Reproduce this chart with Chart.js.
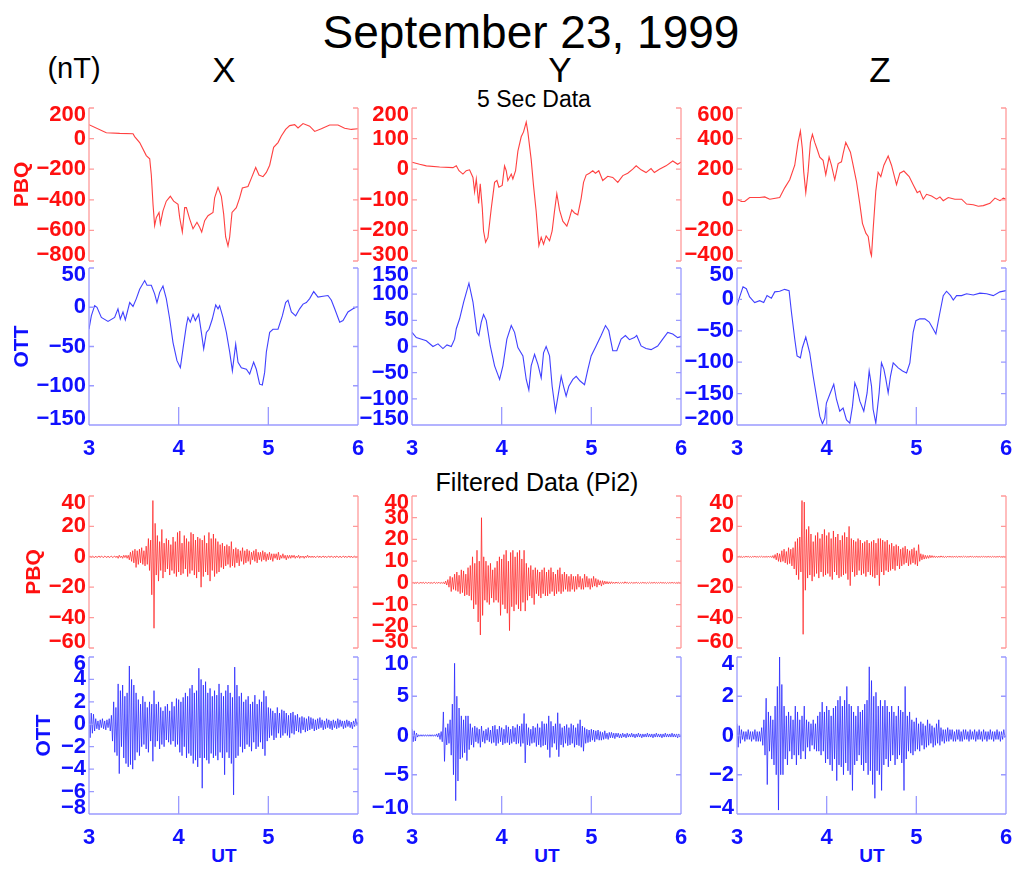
<!DOCTYPE html>
<html>
<head>
<meta charset="utf-8">
<title>September 23, 1999</title>
<script src="https://cdn.jsdelivr.net/npm/chart.js@4.4.1/dist/chart.umd.min.js"></script>
<style>
  body { margin: 0; background: #fff; }
  #page { position: relative; width: 1018px; height: 869px; overflow: hidden;
          font-family: "Liberation Sans", Arial, sans-serif; }
  #page canvas { position: absolute; }
  .txt { position: absolute; white-space: nowrap; line-height: 1; color: #000;
         transform: translateX(-50%); }
  .ut { color: #1010ff; font-weight: bold; font-size: 19px; }
</style>
</head>
<body>
<div id="page">
  <div class="txt" style="left:531px; top:9px; font-size:46px;">September 23, 1999</div>
  <div class="txt" style="left:74px; top:54px; font-size:29px;">(nT)</div>
  <div class="txt" style="left:224px; top:52px; font-size:35px;">X</div>
  <div class="txt" style="left:560px; top:52px; font-size:35px;">Y</div>
  <div class="txt" style="left:880px; top:52px; font-size:35px;">Z</div>
  <div class="txt" style="left:534px; top:88px; font-size:23px;">5 Sec Data</div>
  <div class="txt" style="left:537px; top:470px; font-size:25px;">Filtered Data (Pi2)</div>
  <div class="txt ut" style="left:224px; top:846px;">UT</div>
  <div class="txt ut" style="left:547px; top:846px;">UT</div>
  <div class="txt ut" style="left:872px; top:846px;">UT</div>
</div>
<script>
// 5 second data, [UT hour, nT]
const x5sPbq = [[3.000, 91], [3.193, 38], [3.342, 34], [3.491, 32], [3.509, 13], [3.565, -26], [3.639, -111], [3.677, -132],
  [3.695, -238], [3.714, -430], [3.732, -568], [3.751, -515], [3.781, -483], [3.796, -557], [3.825, -472], [3.862, -409],
  [3.907, -377], [3.944, -409], [3.993, -430], [4.011, -515], [4.041, -611], [4.067, -451], [4.086, -451], [4.123, -526],
  [4.160, -589], [4.204, -547], [4.234, -579], [4.257, -611], [4.290, -536], [4.327, -504], [4.383, -483], [4.401, -387],
  [4.439, -319], [4.476, -377], [4.502, -494], [4.524, -643], [4.550, -702], [4.569, -643], [4.595, -483], [4.643, -451],
  [4.680, -387], [4.710, -323], [4.773, -313], [4.810, -260], [4.859, -189], [4.896, -238], [4.941, -249], [4.978, -221],
  [5.015, -174], [5.059, -57], [5.108, -26], [5.145, 17], [5.193, 60], [5.238, 85], [5.294, 91], [5.331, 70],
  [5.387, 98], [5.461, 81], [5.517, 47], [5.591, 64], [5.684, 89], [5.777, 89], [5.851, 68], [5.926, 60], [6.000, 64]];

const x5sOtt = [[3.000, -28], [3.026, -11], [3.063, 2], [3.089, 0], [3.138, -13], [3.212, -18], [3.286, -13], [3.323, -2],
  [3.349, -15], [3.379, -6], [3.405, -16], [3.454, 6], [3.491, 1], [3.528, 11], [3.565, 23], [3.621, 34],
  [3.647, 28], [3.695, 28], [3.732, 17], [3.758, 6], [3.788, 19], [3.825, 27], [3.862, 11], [3.900, -15],
  [3.937, -45], [3.981, -68], [4.019, -77], [4.048, -53], [4.086, -23], [4.104, -13], [4.130, -19], [4.160, -9],
  [4.186, -17], [4.223, -9], [4.253, -32], [4.279, -53], [4.309, -32], [4.338, -28], [4.375, -15], [4.413, 3],
  [4.439, -2], [4.457, 2], [4.494, -13], [4.532, -32], [4.569, -57], [4.599, -81], [4.636, -47], [4.662, -70],
  [4.699, -77], [4.755, -79], [4.792, -85], [4.836, -70], [4.866, -79], [4.903, -98], [4.933, -99], [4.959, -83],
  [4.978, -57], [5.015, -32], [5.052, -28], [5.108, -28], [5.156, -11], [5.193, 6], [5.219, 9], [5.257, -6],
  [5.305, -11], [5.349, -2], [5.387, 4], [5.424, 6], [5.461, 11], [5.506, 20], [5.554, 13], [5.610, 14],
  [5.665, 15], [5.703, 9], [5.740, -2], [5.796, -19], [5.833, -17], [5.888, -6], [5.944, -2], [6.000, 1]];

const y5sPbq = [[3.000, 23], [3.085, 16], [3.160, 11], [3.308, 7], [3.457, 5], [3.494, 11], [3.524, -5], [3.568, -16],
  [3.605, -5], [3.642, -2], [3.680, -27], [3.698, -74], [3.717, -32], [3.743, -112], [3.761, -48], [3.784, -128],
  [3.798, -202], [3.821, -239], [3.847, -223], [3.884, -128], [3.921, -43], [3.947, -37], [3.969, -59], [4.006, -53],
  [4.032, 11], [4.051, -5], [4.069, -37], [4.107, -16], [4.125, -32], [4.155, -5], [4.181, 59], [4.218, 106],
  [4.244, 122], [4.274, 154], [4.292, 122], [4.329, 32], [4.355, -53], [4.385, -138], [4.415, -250], [4.441, -223],
  [4.467, -245], [4.496, -218], [4.534, -234], [4.563, -202], [4.589, -138], [4.615, -80], [4.645, -133], [4.682, -170],
  [4.727, -186], [4.756, -160], [4.782, -133], [4.812, -143], [4.849, -149], [4.886, -96], [4.913, -43], [4.942, -19],
  [4.979, -13], [5.016, -5], [5.046, -13], [5.083, -5], [5.127, -37], [5.183, -23], [5.239, -27], [5.295, -43],
  [5.351, -21], [5.406, -13], [5.462, 0], [5.500, 11], [5.555, -2], [5.610, -11], [5.666, 2], [5.703, -11],
  [5.759, 0], [5.833, 11], [5.908, 27], [5.963, 16], [6.000, 23]];

const y5sOtt = [[3.000, 27], [3.048, 17], [3.160, 11], [3.234, 0], [3.290, 5], [3.345, -4], [3.390, 3], [3.438, 0],
  [3.475, 14], [3.494, 34], [3.531, 53], [3.576, 85], [3.635, 121], [3.680, 85], [3.724, 27], [3.746, 21],
  [3.772, 46], [3.798, 61], [3.828, 50], [3.873, 1], [3.921, -37], [3.977, -63], [4.014, -37], [4.058, 14],
  [4.107, 40], [4.144, 27], [4.181, -2], [4.237, -18], [4.274, -63], [4.303, -83], [4.329, -37], [4.367, -15],
  [4.404, -34], [4.441, -60], [4.467, -12], [4.496, 0], [4.534, -18], [4.563, -76], [4.600, -124], [4.634, -89],
  [4.664, -57], [4.690, -76], [4.719, -95], [4.749, -76], [4.794, -63], [4.831, -57], [4.875, -66], [4.924, -73],
  [4.961, -44], [4.998, -18], [5.053, 1], [5.109, 21], [5.158, 40], [5.195, 30], [5.239, -8], [5.284, -8],
  [5.332, 14], [5.380, 21], [5.425, 13], [5.480, 17], [5.506, 21], [5.555, 1], [5.610, -4], [5.666, -6],
  [5.740, 1], [5.796, 14], [5.852, 27], [5.908, 24], [5.963, 17], [6.000, 19]];

const z5sPbq = [[3.000, 4], [3.048, -11], [3.086, -11], [3.141, 15], [3.253, 15], [3.309, 19], [3.365, 4], [3.476, 15],
  [3.532, 78], [3.588, 131], [3.644, 226], [3.681, 375], [3.707, 449], [3.729, 332], [3.744, 184], [3.767, 47],
  [3.793, 184], [3.819, 375], [3.841, 427], [3.867, 375], [3.893, 332], [3.923, 279], [3.960, 258], [3.990, 163],
  [4.027, 279], [4.053, 226], [4.090, 131], [4.128, 237], [4.165, 248], [4.183, 300], [4.213, 375], [4.239, 343],
  [4.265, 311], [4.295, 226], [4.332, 121], [4.370, -28], [4.399, -154], [4.437, -218], [4.463, -239], [4.489, -345],
  [4.500, -366], [4.518, -197], [4.548, 57], [4.574, 180], [4.604, 152], [4.638, 226], [4.686, 286], [4.723, 226],
  [4.779, 99], [4.816, 174], [4.861, 188], [4.920, 152], [4.965, 99], [5.010, 47], [5.039, 57], [5.077, 4],
  [5.114, 36], [5.170, 25], [5.226, 4], [5.263, 19], [5.300, -6], [5.356, 15], [5.430, 4], [5.505, 4],
  [5.560, -28], [5.635, -32], [5.691, -42], [5.747, -38], [5.821, -23], [5.877, 11], [5.933, -6], [5.970, 11], [6.000, 4]];

const z5sOtt = [[3.000, -10], [3.030, 4], [3.067, 20], [3.104, 17], [3.141, 4], [3.197, -5], [3.253, -2], [3.298, -5],
  [3.335, 6], [3.383, 2], [3.421, 12], [3.476, 13], [3.532, 16], [3.581, 14], [3.607, -20], [3.644, -63],
  [3.670, -90], [3.707, -93], [3.729, -77], [3.767, -60], [3.811, -85], [3.849, -122], [3.886, -154], [3.923, -186],
  [3.953, -198], [3.979, -189], [3.997, -165], [4.035, -151], [4.079, -135], [4.109, -159], [4.146, -178], [4.183, -173],
  [4.221, -192], [4.258, -197], [4.288, -170], [4.314, -133], [4.340, -143], [4.370, -162], [4.414, -178], [4.451, -149],
  [4.474, -114], [4.500, -138], [4.518, -175], [4.548, -197], [4.585, -149], [4.611, -101], [4.638, -111], [4.660, -127],
  [4.686, -149], [4.712, -122], [4.742, -101], [4.798, -109], [4.846, -114], [4.891, -117], [4.928, -101], [4.965, -52],
  [4.995, -34], [5.039, -31], [5.095, -31], [5.144, -36], [5.188, -47], [5.218, -55], [5.256, -26], [5.300, 6],
  [5.337, 13], [5.382, 6], [5.412, -1], [5.449, 6], [5.505, 6], [5.560, 9], [5.635, 7], [5.709, 10],
  [5.784, 9], [5.858, 6], [5.933, 12], [6.000, 14]];

// Pi2 band-pass output, one sample every 0.0125 h (45 s) from 3 UT
const filtStart = 3, filtStep = 0.0125;

const xPi2Pbq = [
  0, 0.5, -0.5, 0.5, 0, -0.5, 0.5, -0.5, 0, 0.5, -0.5, 0.5, 0, -0.5, 0.5, 0, -0.5, 0.5, -0.5, 0,
  0.5, -0.5, 0, 0.5, -0.5, 0.5, -1, 1, -0.5, 0.5, -1, 1, -0.5, 1, -1, 1, -2, 3, -3, 4,
  -4, 5, -7, 4, -5, 5, -4, 6, -5, 4, -6, 7, -5, 12, -9, 11, -25, 37, -47, 22,
  -12, 14, -16, 10, -9, 18, -14, 9, -10, 12, -8, 11, -12, 8, -9, 13, -11, 10, -13, 16,
  -10, 17, -12, 9, -11, 14, -8, 12, -13, 10, -11, 16, -9, 15, -12, 11, -14, 13, -10, 12,
  -20, 11, -13, 14, -10, 9, -12, 16, -16, 12, -9, 15, -13, 12, -11, 10, -10, 8, -7, 9,
  -8, 7, -6, 8, -5, 7, -7, 10, -6, 5, -7, 6, -4, 5, -6, 4, -3, 6, -5, 4,
  -4, 5, -3, 4, -5, 3, -2, 4, -3, 5, -4, 3, -2, 3, -3, 4, -2, 3, -3, 2,
  -2, 3, -2, 2, -3, 2, -1, 2, -2, 3, -2, 1, -1, 2, -1, 1, -2, 1, -1, 1,
  -1, 1, -0.5, 1, -1, 0.5, -0.5, 1, -1, 0.5, -0.5, 0.5, -1, 0.5, -0.5, 1, -0.5, 0.5, -0.5, 0.5,
  -0.5, 0.5, -0.5, 0, 0.5, -0.5, 0.5, -0.5, 0, 0.5, -0.5, 0.5, -0.5, 0, 0.5, -0.5, 0.5, 0, -0.5, 0.5,
  -0.5, 0.5, 0, -0.5, 0.5, -0.5, 0, 0.5, -0.5, 0.5, -0.5, 0, 0.5, -0.5, 0.5, -0.5, 0, 0.5, -0.5, 0,
  0];

const xPi2Ott = [
  1.3, -1.2, 1.0, -0.8, 0.9, -0.6, 0.5, -0.4, 0.3, -0.5, 0.4, -0.3, 0.5, -0.4, 0.3, -0.5, 0.4, -0.3, 0.5, -0.6,
  0.8, -1.5, 2.0, -2.5, 1.5, -2.8, 3.6, -4.4, 3.0, -2.0, 3.5, -3.0, 2.5, -3.5, 2.8, -3.8, 5.2, -3.6, 4.0, -4.0,
  3.5, -3.2, 2.8, -2.5, 2.2, -2.8, 1.8, -2.0, 2.5, -1.8, 2.0, -2.2, 1.5, -2.5, 2.0, -1.5, 1.8, -3.3, 3.0, -2.0,
  1.8, -1.5, 2.0, -2.2, 1.5, -1.8, 1.2, -2.0, 1.6, -1.4, 1.8, -1.6, 1.2, -1.8, 2.0, -1.5, 1.6, -2.0, 2.3, -1.8,
  2.2, -2.5, 2.0, -2.8, 2.4, -2.0, 2.8, -3.0, 2.5, -2.6, 3.2, -2.8, 3.5, -3.5, 2.8, -3.2, 3.0, -3.8, 5.0, -3.0,
  4.0, -5.7, 3.5, -3.0, 3.8, -3.2, 2.8, -3.5, 3.2, -2.6, 2.5, -3.0, 3.0, -2.8, 2.6, -3.2, 3.6, -2.5, 2.8, -3.0,
  2.5, -4.5, 3.0, -2.5, 3.5, -3.0, 2.8, -3.5, 2.4, -6.3, 5.1, -3.0, 3.5, -2.8, 2.5, -2.0, 2.8, -2.5, 2.0, -2.2,
  2.2, -1.8, 2.5, -2.0, 1.8, -2.4, 2.0, -1.6, 2.6, -2.2, 1.8, -2.0, 2.2, -1.6, 2.0, -2.2, 3.0, -2.8, 2.5, -1.5,
  1.5, -1.2, 1.4, -1.0, 1.2, -1.4, 1.0, -1.2, 1.5, -0.8, 1.0, -1.2, 1.3, -1.0, 1.2, -0.8, 1.0, -1.0, 0.8, -1.2,
  1.0, -0.8, 1.1, -0.9, 0.8, -0.6, 0.9, -0.7, 0.6, -0.8, 0.7, -0.5, 0.6, -0.7, 0.5, -0.6, 0.7, -0.5, 0.6, -0.4,
  0.5, -0.6, 0.4, -0.5, 0.5, -0.4, 0.6, -0.3, 0.4, -0.5, 0.3, -0.4, 0.5, -0.3, 0.4, -0.4, 0.3, -0.5, 0.4, -0.3,
  0.3, -0.4, 0.5, -0.3, 0.4, -0.2, 0.3, -0.4, 0.3, -0.3, 0.4, -0.2, 0.3, -0.3, 0.2, -0.4, 0.3, -0.2, 0.5, -0.1,
  0.2];

const yPi2Pbq = [
  0, 0.3, -0.3, 0.2, -0.2, 0.3, -0.3, 0, 0.2, -0.2, 0.3, -0.3, 0.2, 0, -0.2, 0.3, -0.3, 0.2, -0.2, 0,
  0.3, -0.3, 0.2, -0.2, 0.3, -0.3, 0.2, -0.2, 0.3, -0.5, 0.8, -1.0, 1.5, -2.0, 3.0, -4.0, 2.5, -3.0, 4.0, -3.5,
  5.0, -4.0, 3.5, -5.0, 6.0, -4.5, 5.5, -6.0, 4.0, -5.5, 7.0, -6.0, 8.0, -8.0, 12.0, -12.0, 9.0, -10.0, 15.0, -18.0,
  10, -24, 30, -15, 12, -8, 10, -9, 8, -10, 9, -7, 6, -9, 7, -8, 10, -9, 12, -15,
  11, -10, 13, -12, 15, -14, 10, -22, 14, -11, 15, -13, 12, -10, 14, -12, 15, -13, 11, -9,
  15, -13, 9, -8, 7, -6, 8, -7, 6, -10, 7, -5, 6, -6, 5, -7, 6, -5, 7, -6,
  5, -6, 6, -5, 7, -4, 5, -6, 4, -5, 6, -4, 7, -5, 4, -4, 5, -3, 4, -4,
  3, -4, 4, -3, 3, -4, 3, -3, 4, -2, 3, -3, 2, -3, 4, -2, 3, -2, 2, -3,
  2, -2, 3, -1.5, 2, -2, 1.5, -1, 1, -1.5, 1, -0.8, 0.8, -0.5, 0.6, -0.5, 0.5, -0.4, 0.5, -0.3,
  0.3, -0.3, 0.4, -0.2, 0.3, -0.3, 0.2, -0.2, 0.3, -0.3, 0.5, -0.2, 0.3, -0.3, 0.2, -0.2, 0.3, -0.3, 0.2, -0.2,
  0.3, -0.2, 0.2, -0.3, 0.2, -0.2, 0.3, -0.2, 0.2, -0.3, 0.2, -0.2, 0.3, -0.2, 0.2, -0.2, 0.3, -0.2, 0.2, -0.2,
  0.2, -0.2, 0.3, -0.2, 0.2, -0.2, 0.2, -0.3, 0.2, -0.2, 0.2, -0.2, 0.3, -0.2, 0.2, -0.2, 0.2, -0.2, 0.3, -0.2,
  0];

const yPi2Ott = [
  0.8, -0.8, 0.6, -0.7, 0.3, -0.2, 0.1, -0.1, 0.1, -0.1, 0.1, -0.1, 0.1, -0.1, 0.1, -0.1, 0.1, -0.1, 0.1, -0.1,
  0.1, -0.1, 0.2, -0.2, 0.3, -0.5, 0.5, -0.8, 3.0, -3.3, 1.0, -1.2, 1.5, -1.0, 2.0, -2.5, 4.0, -5.0, 9.2, -8.3,
  5.0, -5.8, 3.5, -3.0, 2.5, -2.8, 2.0, -2.2, 2.5, -3.2, 2.5, -1.8, 1.5, -1.2, 1.0, -1.5, 1.2, -0.8, 1.0, -1.0,
  0.8, -1.5, 1.2, -0.8, 0.6, -1.0, 0.8, -0.6, 1.0, -0.8, 0.7, -1.0, 1.2, -0.9, 1.3, -1.3, 0.8, -1.0, 1.2, -0.8,
  1.0, -1.2, 0.8, -1.0, 1.3, -0.9, 1.1, -1.2, 0.8, -1.0, 1.2, -0.8, 1.0, -1.1, 1.4, -1.0, 1.2, -1.4, 1.5, -1.0,
  2.8, -3.5, 1.5, -1.2, 1.0, -1.3, 0.8, -1.0, 1.2, -0.9, 1.0, -1.4, 1.5, -1.2, 1.0, -1.5, 1.8, -1.3, 1.5, -1.2,
  1.5, -1.8, 2.5, -2.8, 1.8, -1.5, 1.2, -1.0, 1.5, -1.8, 2.9, -2.7, 1.5, -1.2, 1.0, -1.5, 1.2, -1.0, 1.4, -1.3,
  1.0, -1.2, 1.5, -1.0, 1.3, -1.5, 1.0, -1.2, 1.5, -1.3, 2.0, -1.5, 1.2, -2.0, 1.0, -1.0, 0.8, -0.9, 0.7, -0.8,
  0.8, -0.6, 0.7, -0.8, 0.6, -0.5, 0.7, -0.6, 0.5, -0.6, 0.4, -0.5, 0.6, -0.4, 0.3, -0.5, 0.4, -0.3, 0.4, -0.3,
  0.3, -0.4, 0.3, -0.2, 0.3, -0.3, 0.2, -0.3, 0.3, -0.2, 0.2, -0.3, 0.3, -0.2, 0.2, -0.2, 0.3, -0.2, 0.2, -0.3,
  0.2, -0.2, 0.3, -0.2, 0.2, -0.3, 0.2, -0.2, 0.2, -0.2, 0.3, -0.2, 0.2, -0.2, 0.2, -0.3, 0.2, -0.2, 0.3, -0.2,
  0.2, -0.2, 0.2, -0.3, 0.2, -0.2, 0.3, -0.2, 0.2, -0.2, 0.2, -0.2, 0.3, -0.2, 0.2, -0.2, 0.2, -0.3, 0.2, -0.2,
  0.1];

const zPi2Pbq = [
  0.3, -0.3, 0.5, -0.2, 0.3, -0.4, 0.2, -0.3, 0.4, -0.2, 0.3, -0.3, 0.2, -0.4, 0.3, -0.2, 0.4, -0.3, 0.2, -0.3,
  0.3, -0.2, 0.4, -0.3, 0.2, -0.3, 0.3, -0.4, 0.5, -0.3, 0.4, -0.5, 0.8, -1.0, 1.5, -2.0, 2.5, -3.0, 2.0, -3.5,
  4, -3, 5, -4, 3.5, -5, 6, -4.5, 5, -6, 6, -8, 10, -12, 12, -15, 13, -10, 37, -51,
  36, -22, 18, -14, 20, -12, 15, -16, 10, -13, 14, -11, 16, -14, 12, -10, 15, -13, 18, -12,
  14, -11, 16, -13, 12, -15, 17, -10, 13, -12, 15, -14, 11, -13, 14, -12, 16, -11, 13, -15,
  20, -19, 12, -10, 11, -13, 10, -12, 12, -9, 11, -12, 9, -11, 10, -13, 11, -10, 9, -12,
  10, -13, 11, -14, 9, -12, 12, -19, 12, -10, 11, -12, 10, -9, 11, -10, 8, -9, 9, -8,
  7, -9, 8, -6, 7, -8, 5, -6, 6, -5, 7, -4, 5, -6, 4, -5, 5, -4, 6, -5,
  4, -6, 8, -3, 2, -2, 1.5, -1.5, 1, -1.2, 0.8, -1, 1, -0.6, 0.8, -0.5, 0.6, -0.5, 0.4, -0.5,
  0.5, -0.4, 0.6, -0.3, 0.4, -0.5, 0.3, -0.4, 0.5, -0.3, 0.4, -0.3, 0.3, -0.4, 0.5, -0.3, 0.3, -0.4, 0.4, -0.3,
  0.3, -0.3, 0.4, -0.2, 0.3, -0.3, 0.2, -0.3, 0.4, -0.2, 0.3, -0.3, 0.2, -0.2, 0.3, -0.3, 0.2, -0.3, 0.3, -0.2,
  0.3, -0.2, 0.2, -0.3, 0.3, -0.2, 0.2, -0.3, 0.3, -0.2, 0.2, -0.3, 0.2, -0.2, 0.3, -0.2, 0.2, -0.2, 0.3, -0.2,
  0];

const zPi2Ott = [
  0.6, -0.6, 0.5, -0.4, 0.3, -0.2, 0.2, -0.3, 0.2, -0.2, 0.3, -0.2, 0.2, -0.3, 0.2, -0.2, 0.3, -0.3, 0.2, -0.3,
  0.2, -0.3, 0.4, -0.5, 0.8, -1.0, 1.9, -2.5, 1.2, -0.8, 1.0, -1.2, 0.8, -1.5, 1.5, -2.0, 2.5, -3.8, 4.0, -2.0,
  2.6, -2.0, 1.5, -1.2, 1.0, -1.5, 1.2, -0.8, 1.0, -1.2, 0.8, -1.0, 1.5, -1.5, 1.2, -1.0, 0.8, -1.2, 1.0, -0.8,
  1.5, -1.2, 0.8, -0.6, 0.7, -0.8, 0.6, -0.5, 0.8, -0.7, 0.6, -0.8, 1.0, -0.8, 1.2, -1.0, 1.7, -0.8, 1.2, -1.4,
  1.5, -1.2, 1.3, -1.5, 1.0, -1.8, 1.4, -1.2, 1.5, -2.3, 1.8, -1.5, 2.0, -1.6, 1.5, -2.0, 1.8, -1.4, 2.5, -1.8,
  1.6, -2.0, 1.5, -2.8, 1.2, -1.5, 1.0, -1.3, 1.5, -1.0, 1.2, -1.5, 1.3, -1.8, 1.6, -1.4, 1.8, -2.0, 3.5, -1.8,
  2.8, -2.5, 2.0, -3.2, 2.2, -1.8, 1.5, -2.0, 1.8, -2.8, 1.5, -1.5, 1.8, -1.2, 1.5, -1.6, 1.2, -1.3, 1.5, -1.0,
  1.2, -1.5, 1.0, -1.2, 1.5, -1.0, 1.3, -1.4, 1.2, -2.8, 2.5, -1.2, 1.0, -0.8, 1.2, -0.9, 0.8, -1.0, 0.7, -0.8,
  0.9, -0.7, 0.6, -0.8, 0.7, -0.5, 0.6, -0.7, 0.5, -0.6, 0.8, -0.5, 0.6, -0.4, 0.5, -0.6, 0.4, -0.5, 0.6, -0.4,
  0.8, -0.5, 0.4, -0.3, 0.3, -0.4, 0.3, -0.3, 0.4, -0.3, 0.3, -0.2, 0.3, -0.3, 0.2, -0.3, 0.3, -0.2, 0.3, -0.3,
  0.2, -0.3, 0.3, -0.2, 0.3, -0.2, 0.2, -0.3, 0.3, -0.2, 0.2, -0.2, 0.3, -0.3, 0.2, -0.2, 0.3, -0.2, 0.2, -0.3,
  0.3, -0.2, 0.2, -0.3, 0.2, -0.2, 0.3, -0.2, 0.2, -0.3, 0.2, -0.2, 0.3, -0.2, 0.2, -0.3, 0.2, -0.2, 0.3, -0.1,
  0];

// page geometry of each plot box
const cols = [{left: 89, right: 358}, {left: 412, right: 681}, {left: 737, right: 1006}];
const rows = [
  {top: 108, bottom: 265, station: 'PBQ', nameOffset: 67, under: 4, width: 1.1},
  {top: 268, bottom: 425, station: 'OTT', nameOffset: 67, under: 40, width: 1.1, xLabels: true},
  {top: 496, bottom: 652, station: 'PBQ', nameOffset: 55, under: 4, width: 0.85},
  {top: 657, bottom: 814, station: 'OTT', nameOffset: 45, under: 40, width: 0.85, xLabels: true}
];
const AXIS_W = 89, PAD_T = 12, PAD_R = 10;

const red = {text: '#ff1010', axis: '#ff9a9a', line: 'rgba(255,30,30,0.85)'};
const blue = {text: '#1010ff', axis: '#9a9aff', line: 'rgba(30,30,255,0.85)'};
const tickFont = 'bold 22px "Liberation Sans", Arial, sans-serif';

const fromPairs = pairs => pairs.map(([t, v]) => ({x: t, y: v}));
const fromSamples = vals => vals.map((v, i) => ({x: filtStart + i * filtStep, y: v}));
const fmt = v => (v < 0 ? '\u2212' + Math.abs(v) : String(v));

const panels = [
  {col: 0, row: 0, data: fromPairs(x5sPbq), min: -800, max: 200, step: 200},
  {col: 1, row: 0, data: fromPairs(y5sPbq), min: -300, max: 200, step: 100},
  {col: 2, row: 0, data: fromPairs(z5sPbq), min: -400, max: 600, step: 200},
  {col: 0, row: 1, data: fromPairs(x5sOtt), min: -150, max: 50, step: 50},
  {col: 1, row: 1, data: fromPairs(y5sOtt), min: -150, max: 150, step: 50},
  {col: 2, row: 1, data: fromPairs(z5sOtt), min: -200, max: 50, step: 50},
  {col: 0, row: 2, data: fromSamples(xPi2Pbq), min: -60, max: 40, step: 20},
  {col: 1, row: 2, data: fromSamples(yPi2Pbq), min: -30, max: 40, step: 10},
  {col: 2, row: 2, data: fromSamples(zPi2Pbq), min: -60, max: 40, step: 20},
  {col: 0, row: 3, data: fromSamples(xPi2Ott), min: -8, max: 6, step: 2},
  {col: 1, row: 3, data: fromSamples(yPi2Ott), min: -10, max: 10, step: 5},
  {col: 2, row: 3, data: fromSamples(zPi2Ott), min: -4, max: 4, step: 2}
];

// box sides, inward ticks, y tick labels and the station name
const boxAxes = {
  id: 'boxAxes',
  afterDatasetsDraw(chart, args, o) {
    const {ctx, chartArea: a, scales: {x, y}} = chart;
    ctx.save();
    ctx.strokeStyle = o.colors.axis;
    ctx.lineWidth = 1.3;
    ctx.beginPath();
    ctx.moveTo(a.left, a.top); ctx.lineTo(a.left, a.bottom);
    ctx.moveTo(a.right, a.top); ctx.lineTo(a.right, a.bottom);
    y.ticks.forEach(t => {
      const p = y.getPixelForValue(t.value);
      ctx.moveTo(a.left, p); ctx.lineTo(a.left + 5, p);
      ctx.moveTo(a.right, p); ctx.lineTo(a.right - 5, p);
    });
    if (o.bottom) {
      ctx.moveTo(a.left, a.bottom); ctx.lineTo(a.right, a.bottom);
      x.ticks.forEach(t => {
        const p = x.getPixelForValue(t.value);
        ctx.moveTo(p, a.bottom); ctx.lineTo(p, a.bottom - 18);
      });
    }
    ctx.stroke();

    ctx.fillStyle = o.colors.text;
    ctx.font = tickFont;
    ctx.textAlign = 'right';
    ctx.textBaseline = 'middle';
    y.ticks.forEach(t => {
      const p = Math.min(Math.max(y.getPixelForValue(t.value), a.top + 7), a.bottom - 6);
      ctx.fillText(fmt(t.value), a.left - 3, p);
    });

    if (o.name) {
      ctx.font = 'bold 21px "Liberation Sans", Arial, sans-serif';
      ctx.translate(a.left - o.nameOffset, (a.top + a.bottom) / 2);
      ctx.rotate(-Math.PI / 2);
      ctx.textAlign = 'center';
      ctx.fillText(o.name, 0, 0);
    }
    ctx.restore();
  }
};

const page = document.getElementById('page');

panels.forEach(p => {
  const c = cols[p.col], r = rows[p.row];
  const colors = r.station === 'PBQ' ? red : blue;
  const canvas = document.createElement('canvas');
  canvas.width = AXIS_W + (c.right - c.left) + PAD_R;
  canvas.height = PAD_T + (r.bottom - r.top) + r.under;
  canvas.style.left = (c.left - AXIS_W) + 'px';
  canvas.style.top = (r.top - PAD_T) + 'px';
  page.appendChild(canvas);

  new Chart(canvas, {
    type: 'line',
    data: {
      datasets: [{
        data: p.data,
        borderColor: colors.line,
        borderWidth: r.width,
        pointRadius: 0,
        tension: 0
      }]
    },
    options: {
      responsive: false,
      animation: false,
      events: [],
      layout: {padding: {left: 0, top: PAD_T, right: PAD_R, bottom: r.xLabels ? 0 : r.under}},
      plugins: {
        legend: {display: false},
        tooltip: {enabled: false},
        boxAxes: {
          colors: colors,
          bottom: !!r.xLabels,
          name: p.col === 0 ? r.station : '',
          nameOffset: r.nameOffset
        }
      },
      scales: {
        x: {
          type: 'linear', min: 3, max: 6,
          display: !!r.xLabels,
          grid: {display: false},
          border: {display: false},
          ticks: {stepSize: 1, color: colors.text, font: {size: 22, weight: 'bold', family: '"Liberation Sans", Arial, sans-serif'}, padding: 3, maxRotation: 0},
          afterFit: s => { s.height = r.under; }
        },
        y: {
          min: p.min, max: p.max,
          grid: {display: false},
          border: {display: false},
          ticks: {stepSize: p.step, display: false},
          afterFit: s => { s.width = AXIS_W; }
        }
      }
    },
    plugins: [boxAxes]
  });
});
</script>
</body>
</html>
